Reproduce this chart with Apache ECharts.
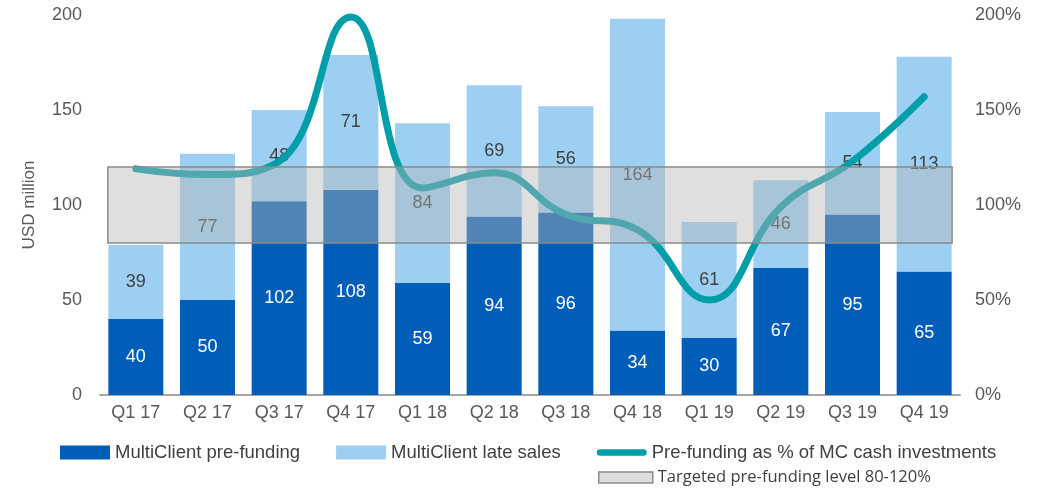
<!DOCTYPE html>
<html>
<head>
<meta charset="utf-8">
<script src="https://cdn.jsdelivr.net/npm/echarts@6/dist/echarts.min.js"></script>
<style>
  html, body { margin: 0; padding: 0; background: #fff; }
  #chart { width: 1054px; height: 488px; }
</style>
</head>
<body>
<div id="chart"></div>
<script>
// quarters on the x axis
const quarters = ['Q1 17', 'Q2 17', 'Q3 17', 'Q4 17', 'Q1 18', 'Q2 18', 'Q3 18', 'Q4 18', 'Q1 19', 'Q2 19', 'Q3 19', 'Q4 19'];
// USD million
const preFunding = [40, 50, 102, 108, 59, 94, 96, 34, 30, 67, 95, 65];
const lateSales = [39, 77, 48, 71, 84, 69, 56, 164, 61, 46, 54, 113];
// percent, right axis
const preFundingPct = [119, 116, 123, 199, 109, 117, 95, 87, 50, 99, 123, 157];
// targeted band 80-120 (left axis units), spanning first to last bar edge
const targetBand = [80, 120];
const bandSpan = [-0.39, 11.39];

const leftTicks = { min: 0, max: 200, interval: 50 };
const rightTicks = { min: 0, max: 200, interval: 50 };

const names = {
  pre: 'MultiClient pre-funding',
  late: 'MultiClient late sales',
  pct: 'Pre-funding as % of MC cash investments',
  band: 'Targeted pre-funding level 80-120%'
};

const chart = echarts.init(document.getElementById('chart'));

const txt = '#595959';
const font = 'Liberation Sans, Arial, sans-serif';
// thick rounded line for the legend of the % series
const lineIcon = 'path://M3.5,0 L50.5,0 A3.5,3.5 0 0 1 50.5,7 L3.5,7 A3.5,3.5 0 0 1 3.5,0 Z';

const option = {
  animation: false,
  grid: { left: 100, right: 94, top: 15, bottom: 93 },
  legend: [
    {
      left: 60, top: 443, padding: 0,
      itemWidth: 50, itemHeight: 14, itemGap: 36,
      textStyle: { color: '#404040', fontSize: 18.5, fontFamily: font },
      data: [
        { name: names.pre, icon: 'rect' },
        { name: names.late, icon: 'rect' },
        { name: names.pct, icon: lineIcon }
      ]
    },
    {
      left: 598, top: 469, padding: 0,
      itemWidth: 54, itemHeight: 11,
      textStyle: { color: '#404040', fontSize: 16.5, fontFamily: 'Open Sans, sans-serif' },
      data: [
        { name: names.band, icon: 'rect', itemStyle: { color: '#dedede', borderColor: '#8c8c8c', borderWidth: 1.5 } }
      ]
    }
  ],
  xAxis: [
    {
      type: 'category',
      data: quarters,
      axisLine: { lineStyle: { color: '#a6a6a6', width: 2 } },
      axisTick: { show: false },
      axisLabel: { color: txt, fontSize: 18, fontFamily: font, margin: 9 }
    },
    { type: 'value', min: -0.5, max: 11.5, show: false }
  ],
  yAxis: [
    {
      type: 'value',
      min: leftTicks.min, max: leftTicks.max, interval: leftTicks.interval,
      name: 'USD million',
      nameLocation: 'middle',
      nameGap: 62,
      nameTextStyle: { color: txt, fontSize: 17, fontFamily: font },
      splitLine: { show: false },
      axisLine: { show: false },
      axisTick: { show: false },
      axisLabel: { color: txt, fontSize: 18, fontFamily: font, margin: 18 }
    },
    {
      type: 'value',
      min: rightTicks.min, max: rightTicks.max, interval: rightTicks.interval,
      splitLine: { show: false },
      axisLine: { show: false },
      axisTick: { show: false },
      axisLabel: { color: txt, fontSize: 18, fontFamily: font, margin: 15, formatter: '{value}%' }
    }
  ],
  series: [
    {
      name: names.pre,
      type: 'bar',
      stack: 'mc',
      data: preFunding,
      barWidth: 55,
      itemStyle: { color: '#005eb8' },
      label: { show: true, position: 'inside', color: '#fff', fontSize: 18, fontFamily: font },
      z: 2
    },
    {
      name: names.late,
      type: 'bar',
      stack: 'mc',
      data: lateSales,
      barWidth: 55,
      itemStyle: { color: '#9dcff3' },
      label: { show: true, position: 'inside', color: '#404040', fontSize: 18, fontFamily: font },
      z: 2
    },
    {
      name: names.pct,
      type: 'line',
      yAxisIndex: 1,
      data: preFundingPct,
      smooth: 0.45,
      symbol: 'none',
      itemStyle: { color: '#009ea8' },
      lineStyle: { color: '#009ea8', width: 7, cap: 'round' },
      z: 3
    },
    {
      name: names.band,
      type: 'line',
      xAxisIndex: 1,
      yAxisIndex: 0,
      data: [],
      itemStyle: { color: '#dedede' },
      z: 10,
      markArea: {
        silent: true,
        z: 10,
        itemStyle: { color: 'rgba(182,182,182,0.44)', borderColor: '#8a8a8a', borderWidth: 1.5 },
        data: [[
          { xAxis: bandSpan[0], yAxis: targetBand[0] },
          { xAxis: bandSpan[1], yAxis: targetBand[1] }
        ]]
      }
    }
  ]
};

chart.setOption(option);
</script>
</body>
</html>
